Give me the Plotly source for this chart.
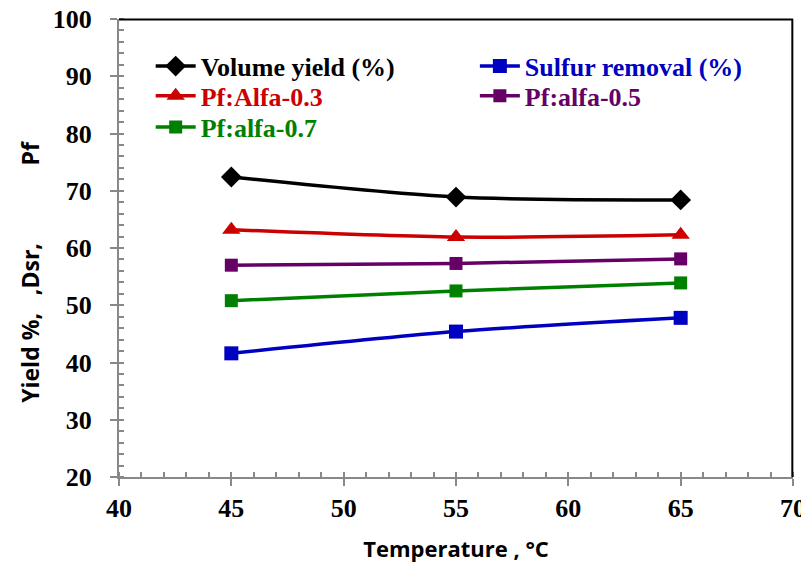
import plotly.graph_objects as go

temperature = [45, 55, 65]
volume_yield = [72.4, 68.9, 68.4]
sulfur_removal = [41.6, 45.4, 47.8]
pf_alfa_03 = [63.2, 61.9, 62.3]
pf_alfa_05 = [57.0, 57.3, 58.1]
pf_alfa_07 = [50.8, 52.5, 53.9]

x_ticks = [40, 45, 50, 55, 60, 65, 70]
y_ticks = [20, 30, 40, 50, 60, 70, 80, 90, 100]

series = [
    ("Volume yield (%)", volume_yield, "#000000", "diamond", 16, "legend"),
    ("Sulfur removal (%)", sulfur_removal, "#0000C0", "square", 14, "legend2"),
    ("Pf:Alfa-0.3", pf_alfa_03, "#CC0000", "triangle-up", 16, "legend3"),
    ("Pf:alfa-0.5", pf_alfa_05, "#660066", "square", 13, "legend4"),
    ("Pf:alfa-0.7", pf_alfa_07, "#008000", "square", 13, "legend5"),
]

fig = go.Figure()
for name, vals, color, sym, size, leg in series:
    fig.add_trace(go.Scatter(
        x=temperature, y=vals, mode="lines+markers",
        name=name,
        line=dict(color=color, width=3.5, shape="spline", smoothing=0.8),
        marker=dict(symbol=sym, size=size, color=color),
        legend=leg,
    ))

serif = "Liberation Serif"
axis_common = dict(
    showline=True, linecolor="#888888", linewidth=2,
    ticks="outside", ticklen=7, tickwidth=2, tickcolor="#888888",
    showgrid=False, zeroline=False, automargin=False,
    ticklabeloverflow="allow",
    tickfont=dict(family=serif, size=26, color="black", weight="bold"),
)
title_font = dict(family="Open Sans", size=22, color="black", weight="bold")

fig.update_xaxes(
    range=[40, 70], tickvals=x_ticks, ticktext=[str(v) for v in x_ticks],
    minor=dict(dtick=1, ticks="inside", ticklen=5, tickwidth=1.5, tickcolor="#888888"),
    title=dict(text="Temperature , °C", font=title_font, standoff=19),
    **axis_common,
)
fig.update_yaxes(
    range=[20, 100], tickvals=y_ticks, ticktext=[str(v) + "  " for v in y_ticks],
    minor=dict(dtick=2, ticks="inside", ticklen=5, tickwidth=1.5, tickcolor="#888888"),
    **axis_common,
)

def leg(x, y, color):
    return dict(
        x=x, y=y, xanchor="left", yanchor="middle",
        font=dict(family=serif, size=26, color=color, weight="bold"),
        bgcolor="rgba(0,0,0,0)", itemwidth=40,
    )

col1, col2 = 0.047, 0.528
row1, row2, row3 = 0.897, 0.832, 0.764
fig.update_layout(
    width=801, height=555,
    margin=dict(l=111, r=16, t=11, b=86),
    paper_bgcolor="white", plot_bgcolor="white",
    showlegend=True,
    legend=leg(col1, row1, "#000000"),
    legend2=leg(col2, row1, "#0000C0"),
    legend3=leg(col1, row2, "#CC0000"),
    legend4=leg(col2, row2, "#660066"),
    legend5=leg(col1, row3, "#008000"),
    annotations=[dict(
        text="Yield %,   ,Dsr,             Pf", textangle=-90,
        xref="paper", yref="paper", x=-0.132, y=0.448,
        xanchor="center", yanchor="middle", showarrow=False,
        font=dict(family="Open Sans", size=23, color="black", weight="bold"),
    )],
    shapes=[
        dict(type="line", xref="paper", yref="paper", x0=0, x1=1, y0=0.999, y1=0.999,
             layer="above", line=dict(color="black", width=2)),
        dict(type="line", xref="paper", yref="paper", x0=0.999, x1=0.999, y0=0, y1=1,
             layer="above", line=dict(color="black", width=2)),
    ],
)

fig.write_html("out.html")
